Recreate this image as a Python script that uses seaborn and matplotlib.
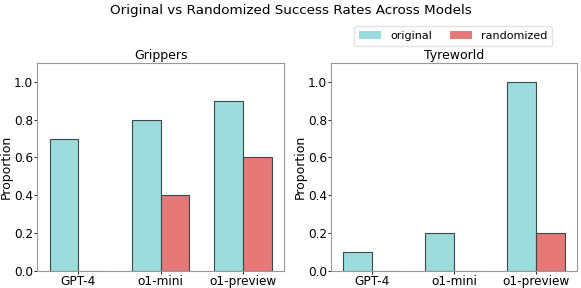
import pandas as pd
import numpy as np
import matplotlib
matplotlib.use("Agg")
import matplotlib.pyplot as plt
import seaborn as sns

models = ["GPT-4", "o1-mini", "o1-preview"]
grippers_original = [0.7, 0.8, 0.9]
grippers_randomized = [0.0, 0.4, 0.6]
tyreworld_original = [0.1, 0.2, 1.0]
tyreworld_randomized = [0.0, 0.0, 0.2]

palette = {"original": "#9ddcdc", "randomized": "#e67878"}


def make_df(orig, rand):
    rows = []
    for m, o, r in zip(models, orig, rand):
        rows.append({"Model": m, "Condition": "original", "Proportion": o})
        rows.append({"Model": m, "Condition": "randomized", "Proportion": r})
    return pd.DataFrame(rows)


sns.set_style("white")
plt.rcParams["font.family"] = ["DejaVu Sans"]
plt.rcParams["text.color"] = "black"
plt.rcParams["axes.labelcolor"] = "black"
plt.rcParams["xtick.color"] = "black"
plt.rcParams["ytick.color"] = "black"

fig, axes = plt.subplots(1, 2, figsize=(5.81, 2.88), dpi=100)
# axes placed by hand to match reference spacing
axes[0].set_position([0.064, 0.059, 0.425, 0.723])
axes[1].set_position([0.570, 0.059, 0.423, 0.723])

panels = [("Grippers", grippers_original, grippers_randomized),
          ("Tyreworld", tyreworld_original, tyreworld_randomized)]

for ax, (title, orig, rand) in zip(axes, panels):
    df = make_df(orig, rand)
    sns.barplot(data=df, x="Model", y="Proportion", hue="Condition",
                palette=palette, saturation=1, width=0.7, edgecolor="#3a4a4a",
                linewidth=0.8, ax=ax, legend=(title == "Tyreworld"))
    ax.set_title(title, fontsize=9, pad=3)
    ax.set_xlabel("")
    ax.set_ylabel("Proportion", fontsize=9, labelpad=1)
    ax.set_ylim(0, 1.1)
    ax.set_xlim(-0.5, 2.5)
    ax.tick_params(labelsize=8.7, length=2, width=0.6, pad=0.8, left=True, bottom=True)
    for s in ax.spines.values():
        s.set_color("#999999")

leg = axes[1].legend(ncol=2, loc="lower right", bbox_to_anchor=(0.90, 1.08),
                     borderaxespad=0, fontsize=8, frameon=True, handlelength=2.0,
                     columnspacing=1.6, borderpad=0.45)
leg.get_frame().set_edgecolor("#dddddd")
for h in leg.legend_handles:
    h.set_edgecolor("none")

fig.suptitle("Original vs Randomized Success Rates Across Models", fontsize=9.7, y=0.985)

plt.savefig("out.png", dpi=100)
